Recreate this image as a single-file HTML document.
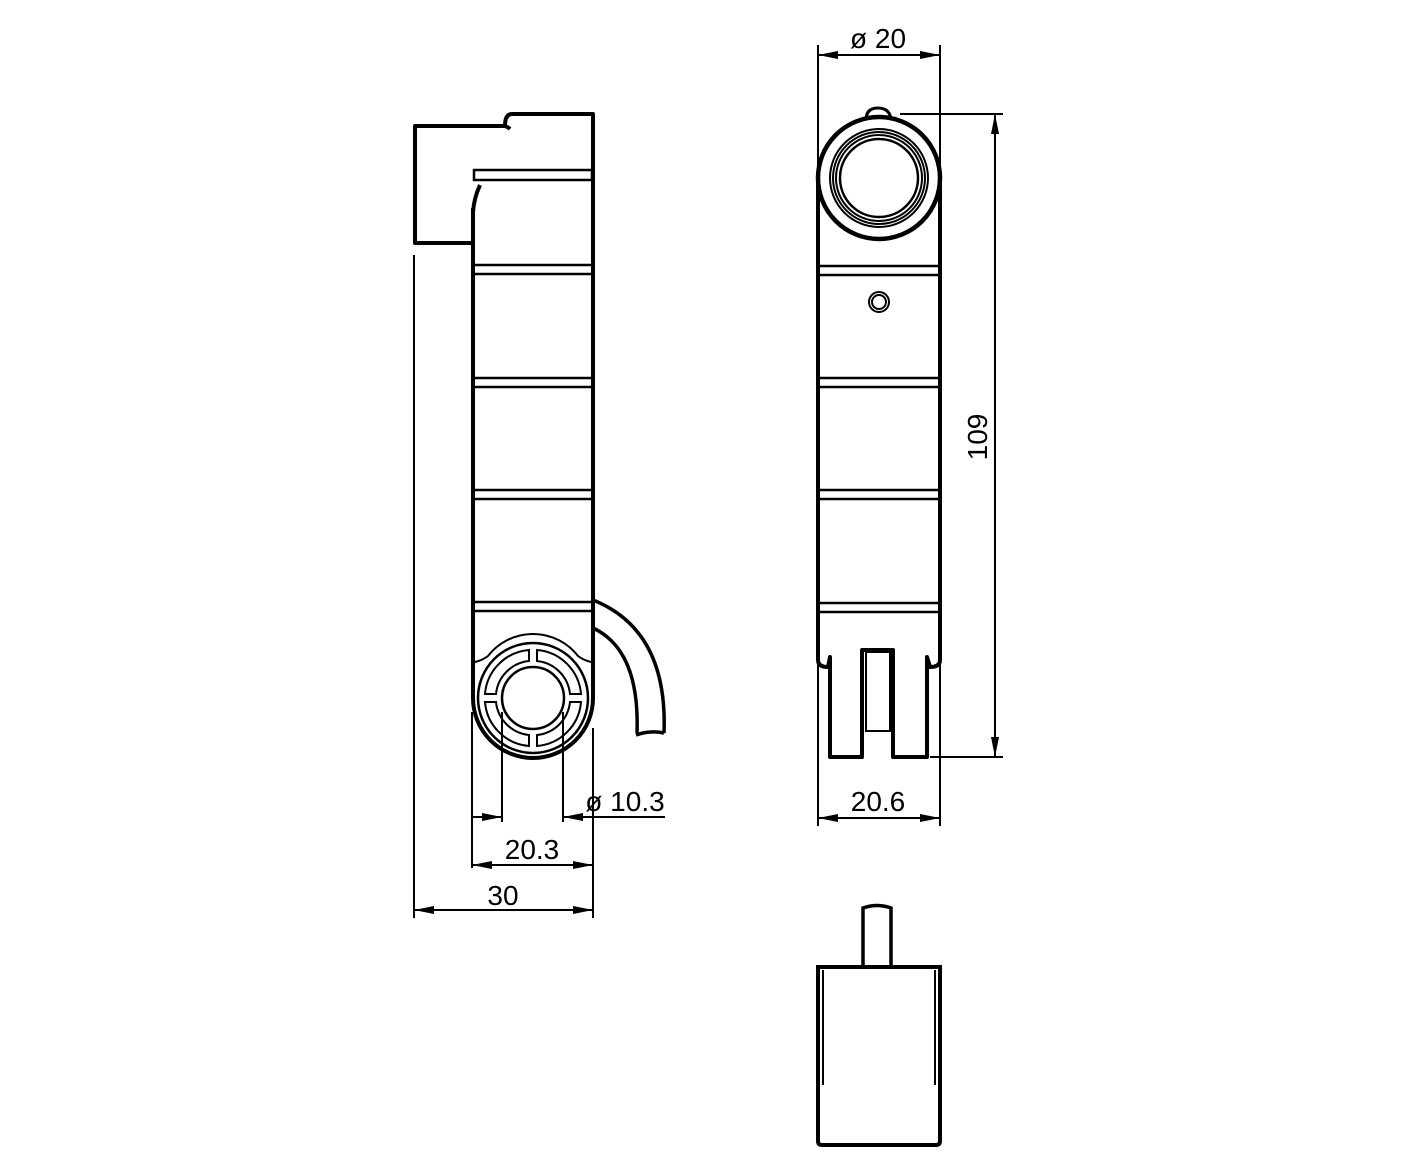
<!DOCTYPE html>
<html><head><style>html,body{margin:0;padding:0;background:#fff}svg{display:block}text{font-family:"Liberation Sans",sans-serif;font-size:28px;fill:#000}</style></head>
<body>
<svg width="1417" height="1171" viewBox="0 0 1417 1171" xmlns="http://www.w3.org/2000/svg">
<defs>
<marker id="a" viewBox="0 0 20 8" refX="20" refY="4" markerWidth="20" markerHeight="8" markerUnits="userSpaceOnUse" orient="auto-start-reverse"><path d="M0,0 L20,4 L0,8z" fill="#000"/></marker>
</defs>
<g fill="none" stroke="#000">
<!-- LEFT VIEW -->
<path d="M473,243 H415 V126 H505 Q508,127 510,129 M505,126 Q505,114 512,114 H593 V698" stroke-width="4" stroke-linejoin="round"/>
<path d="M473,208 V698" stroke-width="4"/>
<rect x="474" y="170" width="118" height="10" stroke-width="2.5"/>
<path d="M480,185 Q474,198 473,212" stroke-width="4"/>
<g stroke-width="2.5">
<rect x="473" y="265" width="120" height="9"/>
<rect x="473" y="378" width="120" height="9"/>
<rect x="473" y="490" width="120" height="9"/>
<rect x="473" y="602" width="120" height="9"/>
</g>
<path d="M473,698 A60,60 0 0 0 593,698" stroke-width="4"/>
<path d="M475,662 Q483,660 488,656 A57,57 0 0 1 578,656 Q583,660 591,662" stroke-width="2"/>
<circle cx="533" cy="698" r="31" stroke-width="2.5"/>
<circle cx="533" cy="698" r="55" stroke-width="2.5"/>
<g stroke-width="2">
<path d="M529,650 A48,48 0 0 0 485,694 L496,694 A37,37 0 0 1 529,661 Z"/>
<path d="M537,650 A48,48 0 0 1 581,694 L570,694 A37,37 0 0 0 537,661 Z"/>
<path d="M529,746 A48,48 0 0 1 485,702 L496,702 A37,37 0 0 0 529,735 Z"/>
<path d="M537,746 A48,48 0 0 0 581,702 L570,702 A37,37 0 0 1 537,735 Z"/>
</g>
<path d="M593,600 Q668,630 664,733 M593,628 Q640,650 637,733 M636,735 Q650,730 664,733" stroke-width="3.5"/>
<!-- left dimensions -->
<g stroke-width="2">
<path d="M414,255 V918 M593,728 V918 M472,712 V868 M502,712 V822 M563,712 V822"/>
<path d="M414,910 H593" marker-start="url(#a)" marker-end="url(#a)"/>
<path d="M472,865 H593" marker-start="url(#a)" marker-end="url(#a)"/>
<path d="M472,817 H502" marker-end="url(#a)"/>
<path d="M665,817 H563" marker-end="url(#a)"/>
</g>
<!-- RIGHT VIEW -->
<path d="M818,180 V640 M940,180 V640" stroke-width="4"/>
<circle cx="879" cy="178" r="61" fill="#fff" stroke-width="4.5"/>
<path d="M866,120 Q866,108 878,108 Q890,108 891,120" stroke-width="3"/>
<circle cx="879" cy="178" r="49" stroke-width="2"/>
<circle cx="879" cy="178" r="46" stroke-width="2"/>
<circle cx="879" cy="178" r="43" stroke-width="2"/>
<circle cx="879" cy="178" r="39" stroke-width="2.5"/>
<g stroke-width="2.5">
<rect x="818" y="266" width="122" height="9"/>
<rect x="818" y="378" width="122" height="9"/>
<rect x="818" y="490" width="122" height="9"/>
<rect x="818" y="603" width="122" height="9"/>
</g>
<circle cx="879" cy="302" r="10" stroke-width="2"/>
<circle cx="879" cy="302" r="7" stroke-width="2"/>
<path d="M818,615 V660 Q818,667 828,667 L830,657 V757 H862 V650 H893 V757 H927 V657 L930,667 Q940,667 940,660 V615" stroke-width="4" stroke-linejoin="round"/>
<rect x="866" y="652" width="24" height="79" stroke-width="2"/>
<!-- right dims -->
<g stroke-width="2">
<path d="M818,45 V180 M940,45 V180 M900,114 H1003 M930,757 H1003 M818,620 V826 M940,620 V826"/>
<path d="M818,55 H940" marker-start="url(#a)" marker-end="url(#a)"/>
<path d="M995,114 V757" marker-start="url(#a)" marker-end="url(#a)"/>
<path d="M818,818 H940" marker-start="url(#a)" marker-end="url(#a)"/>
</g>
<!-- BOTTOM VIEW -->
<path d="M863,967 V908 Q877,903 891,908 V967" stroke-width="3.5"/>
<path d="M818,967 H940 V1141 Q940,1145 936,1145 H822 Q818,1145 818,1141 Z" stroke-width="4"/>
<path d="M823,970 V1085 M935,970 V1085" stroke-width="2"/>
</g>
<text x="878" y="48" text-anchor="middle">ø 20</text>
<text x="987" y="437" text-anchor="middle" transform="rotate(-90 987 437)">109</text>
<text x="878" y="811" text-anchor="middle">20.6</text>
<text x="625" y="811" text-anchor="middle">ø 10.3</text>
<text x="532" y="859" text-anchor="middle">20.3</text>
<text x="503" y="905" text-anchor="middle">30</text>
</svg>
</body></html>
